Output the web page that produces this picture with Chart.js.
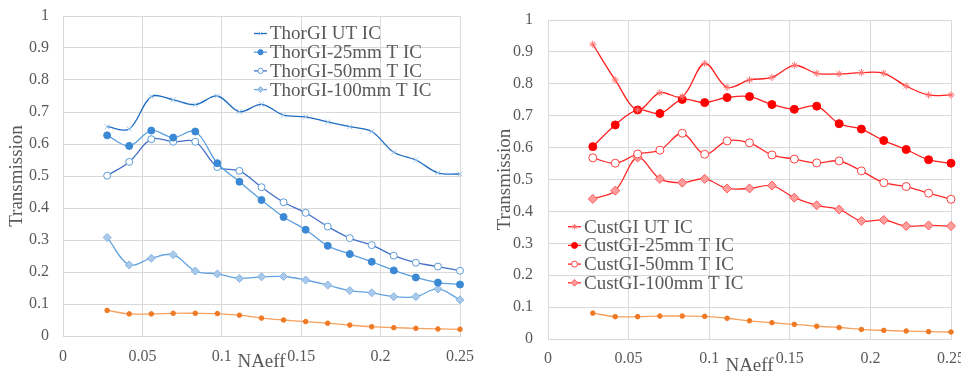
<!DOCTYPE html>
<html>
<head>
<meta charset="utf-8">
<script src="https://cdn.jsdelivr.net/npm/chart.js@4/dist/chart.umd.min.js"></script>
<style>
  html, body { margin: 0; padding: 0; background: #ffffff; width: 961px; height: 372px; overflow: hidden; }
  .panel { position: absolute; top: 0; height: 372px; overflow: hidden; }
  #pl { left: 0; width: 480px; }
  #pr { left: 480px; width: 481px; }
</style>
</head>
<body>
<div class="panel" id="pl"><canvas id="cl" width="480" height="372"></canvas></div>
<div class="panel" id="pr"><canvas id="cr" width="481" height="372"></canvas></div>
<script>
// ---- data ----
const naeff = [0.0278, 0.0417, 0.0556, 0.0694, 0.0833, 0.0972, 0.1111, 0.1250, 0.1389, 0.1528, 0.1667, 0.1806, 0.1944, 0.2083, 0.2222, 0.2361, 0.2500];

const thorUT  = [0.654, 0.647, 0.748, 0.738, 0.723, 0.750, 0.701, 0.724, 0.690, 0.685, 0.669, 0.654, 0.639, 0.574, 0.550, 0.510, 0.506];
const thor25  = [0.627, 0.594, 0.642, 0.620, 0.639, 0.540, 0.482, 0.425, 0.372, 0.332, 0.282, 0.256, 0.232, 0.205, 0.183, 0.167, 0.161];
const thor50  = [0.501, 0.544, 0.615, 0.607, 0.607, 0.528, 0.516, 0.465, 0.418, 0.385, 0.342, 0.306, 0.284, 0.251, 0.229, 0.217, 0.204];
const thor100 = [0.308, 0.222, 0.243, 0.254, 0.203, 0.194, 0.180, 0.185, 0.186, 0.175, 0.159, 0.142, 0.135, 0.123, 0.123, 0.147, 0.113];
const refLeft = [0.080, 0.069, 0.069, 0.071, 0.071, 0.070, 0.065, 0.056, 0.050, 0.045, 0.040, 0.034, 0.029, 0.026, 0.024, 0.022, 0.021];

const custUT  = [0.924, 0.812, 0.718, 0.772, 0.760, 0.864, 0.789, 0.812, 0.820, 0.858, 0.833, 0.831, 0.835, 0.833, 0.793, 0.765, 0.765];
const cust25  = [0.603, 0.671, 0.718, 0.707, 0.751, 0.741, 0.757, 0.760, 0.735, 0.720, 0.730, 0.675, 0.658, 0.622, 0.594, 0.562, 0.551];
const cust50  = [0.568, 0.551, 0.580, 0.592, 0.645, 0.579, 0.621, 0.615, 0.577, 0.564, 0.552, 0.558, 0.527, 0.490, 0.478, 0.457, 0.438];
const cust100 = [0.439, 0.465, 0.569, 0.502, 0.490, 0.502, 0.472, 0.472, 0.481, 0.443, 0.419, 0.406, 0.370, 0.373, 0.354, 0.356, 0.354];
const refRight = [0.081, 0.070, 0.070, 0.072, 0.072, 0.071, 0.065, 0.057, 0.051, 0.046, 0.040, 0.036, 0.030, 0.027, 0.025, 0.023, 0.022];

const thorLabels = ['ThorGI UT IC', 'ThorGI-25mm T IC', 'ThorGI-50mm T IC', 'ThorGI-100mm T IC'];
const custLabels = ['CustGI UT IC', 'CustGI-25mm T IC', 'CustGI-50mm T IC', 'CustGI-100mm T IC'];

const xTickLabels = ['0', '0.05', '0.1', '0.15', '0.2', '0.25'];
const yTickLabels = ['0', '0.1', '0.2', '0.3', '0.4', '0.5', '0.6', '0.7', '0.8', '0.9', '1'];
const xTitle = 'NAeff';
const yTitle = 'Transmission';

// ---- helpers ----
const SERIF = "'Liberation Serif', 'Times New Roman', serif";
const TXT = '#595959';
const GRID = '#d9d9d9';

function pts(ys) { return ys.map((y, i) => ({ x: naeff[i], y: y })); }

function ds(label, ys, st) {
  return Object.assign({
    label: label,
    data: pts(ys),
    tension: 0.35,
    borderWidth: 1.3,
    clip: false,
    pointBorderWidth: 1
  }, st);
}

function drawMarker(ctx, d, x, y, scale) {
  const opts = { pointStyle: d.pointStyle, radius: d.pointRadius * scale, rotation: 0, borderWidth: d.pointBorderWidth };
  ctx.save();
  ctx.fillStyle = d.pointBackgroundColor;
  ctx.strokeStyle = d.pointBorderColor;
  ctx.lineWidth = d.pointBorderWidth;
  if (Chart.helpers && Chart.helpers.drawPoint) {
    Chart.helpers.drawPoint(ctx, opts, x, y);
  } else {
    ctx.beginPath(); ctx.arc(x, y, opts.radius, 0, Math.PI * 2); ctx.fill(); ctx.stroke();
  }
  ctx.restore();
}

function legendPlugin(x0, y0, dy) {
  return {
    id: 'insideLegend',
    afterDraw(chart) {
      const ctx = chart.ctx;
      const sets = chart.data.datasets.filter(d => d.label);
      sets.forEach((d, i) => {
        const y = y0 + i * dy;
        ctx.save();
        ctx.strokeStyle = d.borderColor;
        ctx.lineWidth = 1.3;
        ctx.beginPath(); ctx.moveTo(x0, y); ctx.lineTo(x0 + 13, y); ctx.stroke();
        ctx.restore();
        drawMarker(ctx, d, x0 + 6.5, y, 0.75);
        ctx.save();
        ctx.fillStyle = TXT;
        ctx.font = '19px ' + SERIF;
        ctx.textBaseline = 'middle';
        ctx.textAlign = 'left';
        ctx.fillText(d.label, x0 + 16, y + 1);
        ctx.restore();
      });
    }
  };
}

function makeOptions(cfg) {
  return {
    responsive: false,
    animation: false,
    layout: { padding: { top: cfg.top, right: cfg.right, left: 0, bottom: 0 } },
    plugins: { legend: { display: false }, tooltip: { enabled: false } },
    scales: {
      x: {
        type: 'linear', min: 0, max: 0.25,
        grid: { color: GRID, lineWidth: 1, drawTicks: false },
        border: { color: GRID },
        ticks: {
          stepSize: 0.05, padding: cfg.xPad, color: TXT, maxRotation: 0, autoSkip: false,
          font: { family: SERIF, size: 16 },
          callback: (v, i) => xTickLabels[i]
        },
        title: {
          display: true, text: xTitle, color: TXT,
          font: { family: SERIF, size: 19, lineHeight: cfg.xTitleLH },
          padding: { top: 0, bottom: 0 }
        },
        afterFit: s => { s.height = cfg.xH; s.paddingLeft = 0; s.paddingRight = 0; }
      },
      y: {
        type: 'linear', min: 0, max: 1,
        grid: { color: GRID, lineWidth: 1, drawTicks: false },
        border: { color: GRID },
        ticks: {
          stepSize: 0.1, padding: cfg.yPad, color: TXT,
          font: { family: SERIF, size: 16 },
          callback: (v, i) => yTickLabels[i]
        },
        title: {
          display: true, text: yTitle, color: TXT,
          font: { family: SERIF, size: 19, lineHeight: 1.2 },
          padding: { top: cfg.yTitlePad, bottom: 0 }
        },
        afterFit: s => { s.width = cfg.yW; s.paddingTop = 0; s.paddingBottom = 0; }
      }
    }
  };
}

// ---- left chart (ThorGI) ----
const refStyle = {
  borderColor: '#f6a15f', borderWidth: 1.3,
  pointStyle: 'circle', pointRadius: 2.3,
  pointBackgroundColor: '#ef7a25', pointBorderColor: '#ef7a25'
};

new Chart(document.getElementById('cl'), {
  type: 'line',
  data: {
    datasets: [
      ds(thorLabels[0], thorUT, { borderColor: '#1e6bc2', pointStyle: 'crossRot', pointRadius: 3.5,
        pointBackgroundColor: '#9dc3e6', pointBorderColor: '#9dc3e6' }),
      ds(thorLabels[1], thor25, { borderColor: '#5b9fe0', pointStyle: 'circle', pointRadius: 3.5,
        pointBackgroundColor: '#3b88d4', pointBorderColor: '#3b88d4' }),
      ds(thorLabels[2], thor50, { borderColor: '#4270c8', pointStyle: 'circle', pointRadius: 3.5,
        pointBackgroundColor: '#ffffff', pointBorderColor: '#5b9bd5' }),
      ds(thorLabels[3], thor100, { borderColor: '#64a3e0', pointStyle: 'rectRot', pointRadius: 4,
        pointBackgroundColor: '#a9c9ea', pointBorderColor: '#86b5e4' }),
      ds('', refLeft, refStyle)
    ]
  },
  options: makeOptions({ top: 16, right: 20, xPad: 11, xH: 36, xTitleLH: 1, yPad: 14, yW: 63, yTitlePad: 6 }),
  plugins: [legendPlugin(254, 33.5, 18.7)]
});

// ---- right chart (CustGI) ----
new Chart(document.getElementById('cr'), {
  type: 'line',
  data: {
    datasets: [
      ds(custLabels[0], custUT, { borderColor: '#ff1f1f', pointStyle: 'star', pointRadius: 3.5,
        pointBackgroundColor: '#ff7070', pointBorderColor: '#ff7070' }),
      ds(custLabels[1], cust25, { borderColor: '#ff1f1f', pointStyle: 'circle', pointRadius: 4,
        pointBackgroundColor: '#ff0000', pointBorderColor: '#ff0000' }),
      ds(custLabels[2], cust50, { borderColor: '#ff2a2a', pointStyle: 'circle', pointRadius: 4,
        pointBackgroundColor: '#ffffff', pointBorderColor: '#ff4040' }),
      ds(custLabels[3], cust100, { borderColor: '#ff2a2a', pointStyle: 'rectRot', pointRadius: 4.5,
        pointBackgroundColor: '#ff9c9c', pointBorderColor: '#ff5a5a' }),
      ds('', refRight, refStyle)
    ]
  },
  options: makeOptions({ top: 20, right: 10, xPad: 10, xH: 33, xTitleLH: 0.62, yPad: 15, yW: 68, yTitlePad: 13.6 }),
  plugins: [legendPlugin(88, 226.7, 18.7)]
});
</script>
</body>
</html>
